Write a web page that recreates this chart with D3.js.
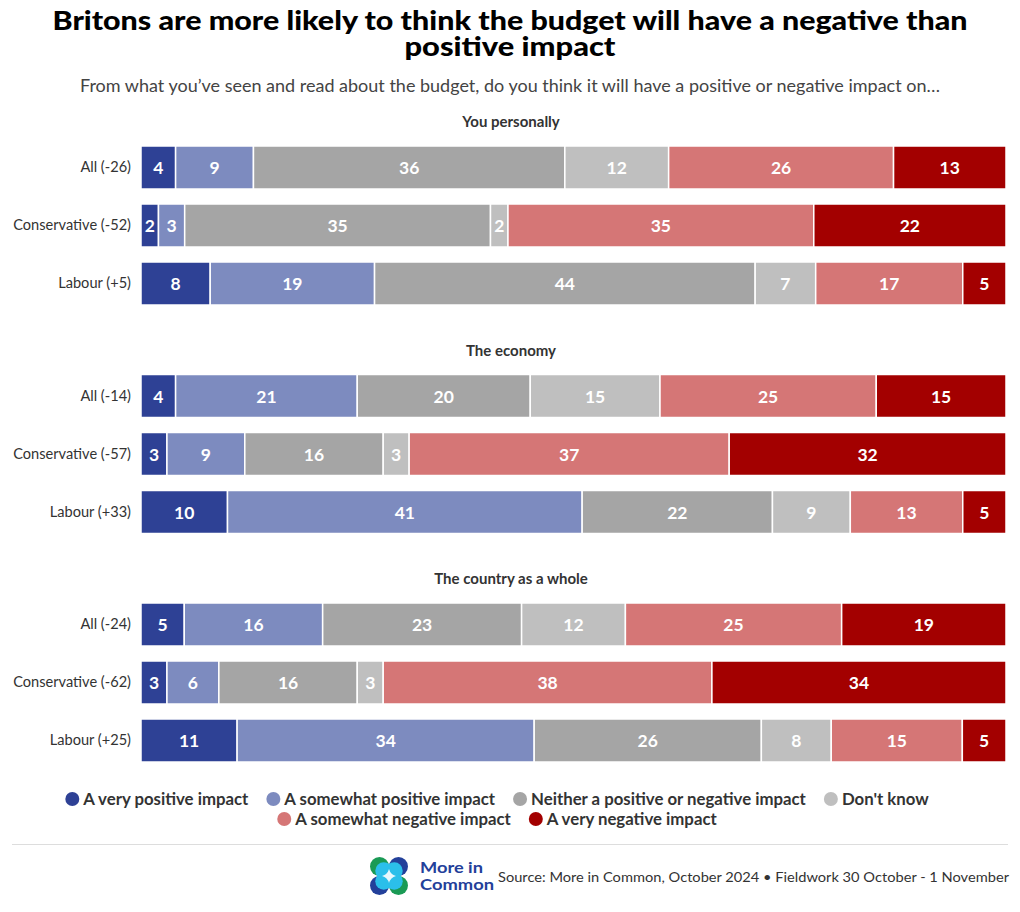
<!DOCTYPE html>
<html>
<head>
<meta charset="utf-8">
<script src="https://cdn.jsdelivr.net/npm/d3@7"></script>
<style>
  html, body { margin: 0; padding: 0; background: #fff; }
  svg { display: block; }
  text { font-family: Lato, "Open Sans", sans-serif; }
</style>
</head>
<body>
<svg id="chart" width="1020" height="912"></svg>
<script>
// ---------- DATA ----------
const groups = ["You personally", "The economy", "The country as a whole"];
const rowLabels = [
  ["All (-26)", "Conservative (-52)", "Labour (+5)"],
  ["All (-14)", "Conservative (-57)", "Labour (+33)"],
  ["All (-24)", "Conservative (-62)", "Labour (+25)"]
];
const seriesNames = [
  "A very positive impact",
  "A somewhat positive impact",
  "Neither a positive or negative impact",
  "Don't know",
  "A somewhat negative impact",
  "A very negative impact"
];
// values per group -> per row (All, Conservative, Labour)
const veryPositive     = [[4, 2, 8],   [4, 3, 10],  [5, 3, 11]];
const somewhatPositive = [[9, 3, 19],  [21, 9, 41], [16, 6, 34]];
const neither          = [[36, 35, 44],[20, 16, 22],[23, 16, 26]];
const dontKnow         = [[12, 2, 7],  [15, 3, 9],  [12, 3, 8]];
const somewhatNegative = [[26, 35, 17],[25, 37, 13],[25, 38, 15]];
const veryNegative     = [[13, 22, 5], [15, 32, 5], [19, 34, 5]];
const seriesColors = ["#2e4195", "#7d8bbf", "#a5a5a5", "#bfbfbf", "#d57676", "#a30000"];

const title = ["Britons are more likely to think the budget will have a negative than", "positive impact"];
const subtitle = "From what you\u2019ve seen and read about the budget, do you think it will have a positive or negative impact on\u2026";
const source = "Source: More in Common, October 2024 \u2022 Fieldwork 30 October - 1 November";

// ---------- BUILD TABLE ----------
const allSeries = [veryPositive, somewhatPositive, neither, dontKnow, somewhatNegative, veryNegative];
const rows = [];
groups.forEach((g, gi) => {
  rowLabels[gi].forEach((lab, ri) => {
    const r = { group: g, label: lab, ri };
    seriesNames.forEach((s, si) => { r[s] = allSeries[si][gi][ri]; });
    rows.push(r);
  });
});

const stack = d3.stack().keys(seriesNames).offset(d3.stackOffsetExpand);
const stacked = stack(rows);

// ---------- SCALES ----------
const svg = d3.select("#chart");
const x = d3.scaleLinear().domain([0, 1]).range([141, 1006]);
const yGroup = d3.scaleBand().domain(groups).range([104, 104 + 228.5 * 3]);
const rowOffsetTop = 42;
const yRow = d3.scaleBand().domain([0, 1, 2]).range([0, 58 * 3 - 15]).paddingInner(15 / 58).paddingOuter(0);
const color = d3.scaleOrdinal().domain(seriesNames).range(seriesColors);
const rowY = d => yGroup(d.group) + rowOffsetTop + yRow(d.ri);

// ---------- TITLE ----------
svg.append("text").attr("x", 510).attr("y", 30).attr("text-anchor", "middle")
  .attr("font-size", 26.5).attr("font-weight", 900).attr("fill", "#000")
  .attr("textLength", 915).attr("lengthAdjust", "spacingAndGlyphs").text(title[0]);
svg.append("text").attr("x", 510).attr("y", 56).attr("text-anchor", "middle")
  .attr("font-size", 26.5).attr("font-weight", 900).attr("fill", "#000")
  .attr("textLength", 211).attr("lengthAdjust", "spacingAndGlyphs").text(title[1]);
svg.append("text").attr("x", 510).attr("y", 92).attr("text-anchor", "middle")
  .attr("font-size", 16.5).attr("fill", "#444")
  .attr("textLength", 860).attr("lengthAdjust", "spacingAndGlyphs").text(subtitle);

// ---------- GROUP HEADERS ----------
svg.selectAll(".ghead").data(groups).join("text")
  .attr("class", "ghead")
  .attr("x", 511).attr("y", g => yGroup(g) + 23)
  .attr("text-anchor", "middle").attr("font-size", 15).attr("font-weight", 700)
  .attr("fill", "#333").text(g => g);

// ---------- ROW LABELS ----------
svg.selectAll(".rlab").data(rows).join("text")
  .attr("class", "rlab")
  .attr("x", 131).attr("y", d => rowY(d) + yRow.bandwidth() / 2 + 4.5)
  .attr("text-anchor", "end").attr("font-size", 14.6).attr("fill", "#333")
  .text(d => d.label);

// ---------- BARS ----------
const layer = svg.append("g").selectAll("g").data(stacked).join("g")
  .attr("fill", s => color(s.key));
layer.selectAll("rect").data(s => s.map(p => ({ p, key: s.key }))).join("rect")
  .attr("x", d => x(d.p[0]))
  .attr("y", d => rowY(d.p.data))
  .attr("width", d => x(d.p[1]) - x(d.p[0]))
  .attr("height", yRow.bandwidth())
  .attr("stroke", "#fff").attr("stroke-width", 1.5);

// ---------- VALUE LABELS ----------
const labLayer = svg.append("g").selectAll("g").data(stacked).join("g");
labLayer.selectAll("text").data(s => s.map(p => ({ p, key: s.key }))).join("text")
  .attr("x", d => (x(d.p[0]) + x(d.p[1])) / 2)
  .attr("y", d => rowY(d.p.data) + yRow.bandwidth() / 2 + 6.5)
  .attr("text-anchor", "middle").attr("font-size", 17.5).attr("font-weight", 700)
  .attr("fill", "#fff")
  .text(d => d.p.data[d.key]);

// ---------- LEGEND ----------
const legendRows = [seriesNames.slice(0, 4), seriesNames.slice(4)];
const legendY = [799, 819];
const legendCenter = 497;
legendRows.forEach((items, li) => {
  const g = svg.append("g");
  let cx = 0;
  items.forEach((name, i) => {
    const it = g.append("g").attr("transform", `translate(${cx},0)`);
    it.append("circle").attr("cx", 7).attr("cy", 0).attr("r", 7).attr("fill", color(name));
    const t = it.append("text").attr("x", 18).attr("y", 5.5)
      .attr("font-size", 16.8).attr("font-weight", 700).attr("fill", "#333").text(name);
    cx += 18 + t.node().getComputedTextLength() + 18;
  });
  const total = cx - 18;
  g.attr("transform", `translate(${legendCenter - total / 2},${legendY[li]})`);
});

// ---------- FOOTER ----------
svg.append("line").attr("x1", 12).attr("x2", 1008).attr("y1", 844.5).attr("y2", 844.5)
  .attr("stroke", "#dddddd").attr("stroke-width", 1);

// logo
const logo = svg.append("g").attr("transform", "translate(389,876)");
const outer = [
  { dx: -9.5, dy: -9.5, c: "#1a9a55" },
  { dx: 9.5, dy: -9.5, c: "#23409a" },
  { dx: -9.5, dy: 9.5, c: "#23409a" },
  { dx: 9.5, dy: 9.5, c: "#1a9a55" }
];
outer.forEach(o => logo.append("circle").attr("cx", o.dx).attr("cy", o.dy).attr("r", 9.5).attr("fill", o.c));
outer.forEach(o => logo.append("circle").attr("cx", o.dx * 0.55).attr("cy", o.dy * 0.55).attr("r", 8.5).attr("fill", "#2bbfea"));
logo.append("path").attr("d", "M0,-7 Q1.5,-1.5 7,0 Q1.5,1.5 0,7 Q-1.5,1.5 -7,0 Q-1.5,-1.5 0,-7Z").attr("fill", "#e8f8fd");

svg.append("text").attr("x", 420).attr("y", 873).attr("font-size", 15.5).attr("font-weight", 700)
  .attr("fill", "#23409a").attr("textLength", 63).attr("lengthAdjust", "spacingAndGlyphs").text("More in");
svg.append("text").attr("x", 420).attr("y", 890).attr("font-size", 15.5).attr("font-weight", 700)
  .attr("fill", "#23409a").attr("textLength", 74).attr("lengthAdjust", "spacingAndGlyphs").text("Common");
svg.append("text").attr("x", 1009).attr("y", 882).attr("text-anchor", "end")
  .attr("font-size", 14.3).attr("fill", "#333")
  .attr("textLength", 511).attr("lengthAdjust", "spacingAndGlyphs").text(source);
</script>
</body>
</html>
